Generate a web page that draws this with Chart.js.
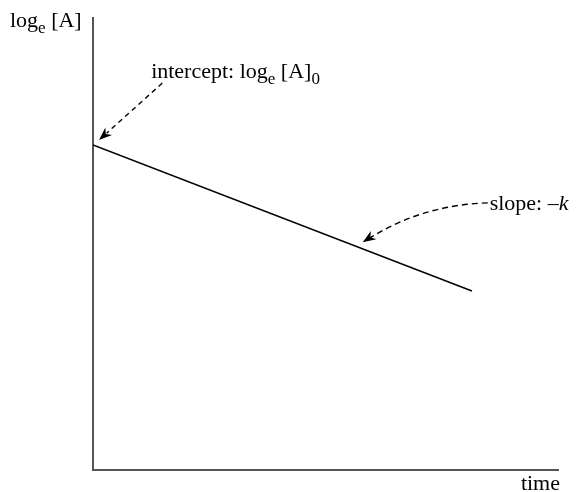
<!DOCTYPE html>
<html>
<head>
<meta charset="utf-8">
<script src="https://cdn.jsdelivr.net/npm/chart.js@4.4.0/dist/chart.umd.min.js"></script>
<style>
  html,body{margin:0;padding:0;background:#fff;}
  #wrap{width:576px;height:492px;position:relative;}
</style>
</head>
<body>
<div id="wrap"><canvas id="chart"></canvas></div>
<script>
// first-order decay: ln[A] vs time (straight line)
const timeVals = [0, 8.15];
const lnAVals = [7.19, 3.96];
const xRange = [0, 10];
const yRange = [0, 10];

// annotation anchors in data units
const interceptText = {x: 1.25, y: 8.67};
const interceptArrow = {from: {x: 1.49, y: 8.56}, to: {x: 0.13, y: 7.30}};
const slopeText = {x: 8.53, y: 5.75};
const slopeArrow = {from: {x: 8.49, y: 5.91}, ctrl: {x: 7.03, y: 5.86}, to: {x: 5.80, y: 5.04}};

const FONT = '"Liberation Serif", "Times New Roman", serif';
const FS = 22;

// draws text pieces like [['log',0],['e',1]] ; 1 = subscript, 2 = italic
function richText(ctx, parts, x, y){
  let cx = x;
  parts.forEach(p => {
    const sub = p[1] === 1;
    const italic = p[1] === 2;
    ctx.font = (italic ? 'italic ' : '') + (sub ? Math.round(FS*0.78) : FS) + 'px ' + FONT;
    ctx.fillText(p[0], cx, sub ? y + FS*0.28 : y);
    cx += ctx.measureText(p[0]).width;
  });
  return cx;
}

function arrowHead(ctx, tip, from){
  const ang = Math.atan2(tip.y - from.y, tip.x - from.x);
  const len = 13, half = 5;
  ctx.save();
  ctx.setLineDash([]);
  ctx.translate(tip.x, tip.y); ctx.rotate(ang);
  ctx.beginPath();
  ctx.moveTo(0,0); ctx.lineTo(-len, -half); ctx.lineTo(-len*0.7, 0); ctx.lineTo(-len, half); ctx.closePath();
  ctx.fill();
  ctx.restore();
}

const annotations = {
  id: 'annotations',
  afterDraw(c){
    const ctx = c.ctx, xs = c.scales.x, ys = c.scales.y;
    const px = p => ({x: xs.getPixelForValue(p.x), y: ys.getPixelForValue(p.y)});
    ctx.save();
    ctx.fillStyle = '#000'; ctx.strokeStyle = '#000';
    ctx.textBaseline = 'alphabetic';

    // axis titles
    richText(ctx, [['log',0],['e',1],[' [A]',0]], 10, 27);
    ctx.font = FS + 'px ' + FONT;
    ctx.textAlign = 'right';
    ctx.fillText('time', 560, 490);
    ctx.textAlign = 'left';

    // intercept
    const it = px(interceptText);
    richText(ctx, [['intercept: log',0],['e',1],[' [A]',0],['0',1]], it.x, it.y);
    let a = px(interceptArrow.from), b = px(interceptArrow.to);
    ctx.lineWidth = 1.4; ctx.setLineDash([5,4]);
    ctx.beginPath(); ctx.moveTo(a.x, a.y); ctx.lineTo(b.x + (a.x-b.x)*0.12, b.y + (a.y-b.y)*0.12); ctx.stroke();
    arrowHead(ctx, b, a);

    // slope
    const st = px(slopeText);
    richText(ctx, [['slope: ',0],['\u2013',0],['k',2]], st.x, st.y);
    a = px(slopeArrow.from); const m = px(slopeArrow.ctrl); b = px(slopeArrow.to);
    ctx.setLineDash([6,4]);
    ctx.beginPath(); ctx.moveTo(a.x, a.y); ctx.quadraticCurveTo(m.x, m.y, b.x + 4, b.y - 2); ctx.stroke();
    arrowHead(ctx, b, m);
    ctx.restore();
  }
};

const chart = new Chart(document.getElementById('chart').getContext('2d'), {
  type: 'line',
  data: {
    datasets: [{
      data: timeVals.map((t, i) => ({x: t, y: lnAVals[i]})),
      borderColor: '#000', borderWidth: 1.5, pointRadius: 0, tension: 0
    }]
  },
  options: {
    responsive: true, maintainAspectRatio: false, animation: false,
    layout: {padding: {left: 93, top: 18, right: 18, bottom: 22}},
    plugins: {legend: {display: false}, tooltip: {enabled: false}},
    scales: {
      x: {type: 'linear', min: xRange[0], max: xRange[1],
          grid: {display: false, drawTicks: false}, ticks: {display: false},
          border: {display: true, color: '#555', width: 2}},
      y: {type: 'linear', min: yRange[0], max: yRange[1],
          grid: {display: false, drawTicks: false}, ticks: {display: false},
          border: {display: true, color: '#555', width: 2}}
    }
  },
  plugins: [annotations]
});
</script>
</body>
</html>
